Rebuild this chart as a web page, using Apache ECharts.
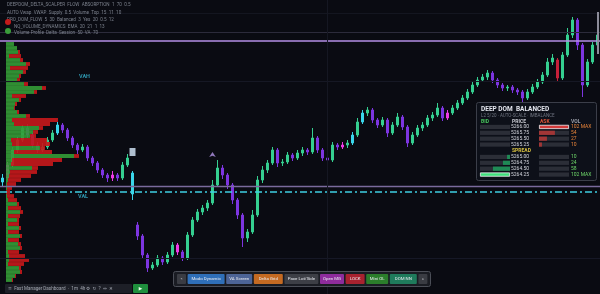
<!DOCTYPE html>
<html>
<head>
<meta charset="utf-8">
<script src="https://cdn.jsdelivr.net/npm/echarts@6/dist/echarts.min.js"></script>
<style>
  html, body { margin: 0; padding: 0; background: #0a0b12; }
  #chart { width: 600px; height: 294px; }
</style>
</head>
<body>
<div id="chart"></div>
<script>
// 1m bars, [open, close, low, high]
const candles = [
  [5118,5122,5114,5126],[5122,5135,5120,5138],[5135,5150,5133,5153],[5150,5160,5147,5163],
  [5160,5172,5158,5175],[5172,5165,5162,5176],[5165,5155,5152,5167],[5155,5150,5147,5158],
  [5150,5153,5148,5157],[5153,5160,5151,5163],[5160,5167,5158,5170],[5167,5175,5165,5178],
  [5175,5170,5167,5177],[5170,5162,5159,5172],[5162,5155,5152,5164],[5155,5150,5146,5157],
  [5150,5153,5148,5156],[5153,5142,5139,5155],[5142,5137,5134,5144],[5137,5130,5127,5139],
  [5130,5125,5122,5132],[5125,5122,5118,5127],[5122,5125,5119,5129],[5125,5122,5119,5127],
  [5122,5135,5120,5138],[5135,5142,5133,5146],[5127,5106,5100,5129],[5075,5064,5060,5078],
  [5064,5045,5041,5066],[5045,5032,5028,5047],[5032,5035,5030,5038],[5035,5042,5033,5045],
  [5042,5038,5035,5044],[5038,5045,5036,5048],[5045,5055,5043,5058],[5055,5048,5045,5057],
  [5048,5042,5039,5050],[5042,5065,5040,5068],[5065,5080,5063,5083],[5080,5088,5078,5091],
  [5088,5092,5085,5095],[5092,5097,5089,5100],[5097,5115,5095,5120],[5115,5132,5113,5140],
  [5132,5125,5121,5135],[5125,5115,5111,5127],[5115,5100,5096,5117],[5100,5085,5081,5102],
  [5085,5062,5053,5087],[5062,5068,5058,5071],[5068,5085,5066,5090],[5085,5120,5083,5124],
  [5120,5130,5117,5134],[5130,5137,5127,5140],[5137,5150,5135,5153],[5150,5137,5133,5152],
  [5137,5138,5134,5141],[5138,5145,5136,5148],[5145,5142,5139,5147],[5142,5147,5140,5150],
  [5147,5150,5144,5153],[5150,5148,5145,5152],[5148,5162,5146,5172],[5162,5150,5147,5164],
  [5150,5142,5139,5152],[5142,5140,5137,5145],[5140,5155,5138,5158],[5155,5153,5150,5157],
  [5153,5155,5151,5158],[5155,5157,5152,5160],[5157,5165,5155,5168],[5165,5178,5163,5182],
  [5178,5187,5176,5190],[5187,5190,5184,5193],[5190,5180,5177,5192],[5180,5175,5172,5182],
  [5175,5180,5173,5183],[5180,5167,5163,5182],[5167,5175,5165,5178],[5175,5183,5173,5187],
  [5183,5173,5170,5185],[5173,5157,5153,5175],[5157,5165,5155,5168],[5165,5172,5163,5175],
  [5172,5175,5169,5178],[5175,5182,5173,5185],[5182,5185,5179,5188],[5185,5192,5183,5197],
  [5192,5182,5179,5194],[5182,5187,5180,5190],[5187,5192,5185,5195],[5192,5197,5190,5200],
  [5197,5202,5195,5205],[5202,5208,5200,5211],[5208,5215,5206,5218],[5215,5220,5213,5223],
  [5220,5223,5218,5226],[5223,5227,5220,5230],[5227,5220,5217,5229],[5220,5215,5212,5222],
  [5215,5212,5209,5217],[5212,5213,5209,5215],[5213,5210,5207,5215],[5210,5208,5205,5212],
  [5208,5202,5198,5210],[5202,5208,5200,5211],[5208,5213,5206,5216],[5213,5218,5211,5221],
  [5218,5225,5216,5228],[5225,5238,5223,5242],[5238,5242,5235,5246],[5240,5222,5218,5242],
  [5222,5245,5220,5248],[5245,5265,5243,5272],[5265,5280,5262,5283],[5280,5255,5250,5282],
  [5255,5215,5203,5257],[5215,5238,5213,5241],[5238,5255,5236,5258],[5255,5265,5252,5270]
];
const cyanBars = [0, 11, 26, 70, 72];
const pinkBars = [1, 22, 35, 68, 89];
const redBars = [111];

// session levels
const sessionHigh = 5259;
const priorHigh = 5268;
const vah = 5219;
const poc = 5114;
const val = 5108;
const faintLevels = [5287, 5042];

// signal markers [bar index, price]
const absorbMarks = [[26, 5148]];
const arrowMarks = [[42, 5148]];

// volume profile, top row first (4 pt bins)
const profileTop = 5256;
const profileBuy = [
  8,11,12,3,14,20,4,17,13,11,18,36,28,6,13,9,8,11,20,6,
  8,33,27,24,5,6,34,8,68,6,5,26,4,3,2,1,1,0,1,2,
  11,2,14,2,11,2,13,2,14,2,12,14,2,3,3,2,13,14,9,6
];
const profileSell = [
  0,0,2,12,3,4,18,3,2,3,4,4,3,14,2,2,1,2,4,46,
  36,4,5,6,36,38,5,38,5,50,42,6,27,22,13,9,5,4,7,9,
  2,13,3,12,2,11,2,11,2,11,3,2,11,16,20,16,2,2,1,1
];

// DOM ladder
const askPrice = ['5266.00', '5265.75', '5265.50', '5265.25'];
const askSize = [102, 54, 27, 10];
const bidPrice = ['5265.00', '5264.75', '5264.50', '5264.25'];
const bidSize = [10, 24, 58, 102];

const legendLines = [
  'DEEPDOM_DELTA_SCALPER  FLOW  ABSORPTION  1  70  0.5',
  'AUTO Vwap  VWAP  Supply  0.5  Volume  Top  15  11  10',
  'PRO_DOM_FLOW  5  30  Balanced  3  Yes  20  0.5  12',
  'NQ_VOLUME_DYNAMICS  EMA  20  21  1  13',
  'Volume Profile  Delta  Session  50  VA  70'
];
const toolbarButtons = [
  ['«', '#3a3c43'], ['Modo Dynamic', '#2f6fb8'], ['VA Screen', '#4d6496'],
  ['Delta Grid', '#c46a22'], ['Pace Lot/Side', '#3d3f46'], ['Open MG', '#8e2c9c'],
  ['LOCK', '#a8222f'], ['Mini OL', '#2b7d2b'], ['DOM NN', '#1f7b5c'], ['»', '#3a3c43']
];
const toolbarWidths = [9, 37, 26, 29, 34, 24, 19, 22, 27, 9];

const times = candles.map((c, i) => {
  const m = 570 + i;
  return String(Math.floor(m / 60)).padStart(2, '0') + ':' + String(m % 60).padStart(2, '0');
});
const profilePrices = profileBuy.map((v, i) => (profileTop - i * 4).toFixed(2));

const font = 'Roboto, "DejaVu Sans", sans-serif';
const hl = c => ({ color: c, color0: c, borderColor: c, borderColor0: c });

const candleData = candles.map((c, i) => {
  if (cyanBars.includes(i)) return { value: c, itemStyle: hl('#3ad6ea') };
  if (pinkBars.includes(i)) return { value: c, itemStyle: hl('#ee3ae6') };
  if (redBars.includes(i)) return { value: c, itemStyle: hl('#c8203a') };
  return c;
});

const chart = echarts.init(document.getElementById('chart'));

// overlay: legend text, DOM panel frame, toolbar
const graphics = [];
const txt = (x, y, text, fill, size, extra, z) => graphics.push({
  type: 'text', x, y, z: z || 40,
  style: Object.assign({ text, fill, font: size + 'px ' + font, verticalAlign: 'middle' }, extra || {})
});

legendLines.forEach((t, i) => txt(i > 2 ? 14 : 7, [5, 12.5, 20, 26.5, 33][i], t, '#7b808c', 4.6));
graphics.push({ type: 'circle', shape: { cx: 8, cy: 22, r: 3 }, z: 41, style: { fill: '#c41a1a' } });
graphics.push({ type: 'circle', shape: { cx: 8, cy: 31, r: 3 }, z: 41, style: { fill: '#3a9d3a' } });
graphics.push({ type: 'rect', shape: { x: 597, y: 12, width: 2, height: 42 }, z: 40, style: { fill: '#8c8c99' } });

txt(79, 77, 'VAH', '#2e98b0', 5.5, { font: 'bold 5.5px ' + font });
txt(78, 197, 'VAL', '#2e98b0', 5.5, { font: 'bold 5.5px ' + font });

// DOM panel
graphics.push({ type: 'rect', shape: { x: 476.5, y: 102.5, width: 120, height: 78, r: 2 }, z: 10,
  style: { fill: '#0d1019', stroke: '#3b3e49', lineWidth: 1 } });
txt(481, 109.5, 'DEEP DOM  BALANCED', '#e4e6ee', 7, { font: 'bold 6.5px ' + font });
txt(481, 115.5, 'L2 5/20 · AUTO-SCALE · IMBALANCE', '#6f7480', 4.5);
[['BID', 481, '#47c45c'], ['PRICE', 512, '#c8cad2'], ['ASK', 540, '#e0553a'], ['VOL', 571, '#9a9ea8']]
  .forEach(h => txt(h[1], 121.5, h[0], h[2], 5, { font: 'bold 5px ' + font }));
txt(512, 150.5, 'SPREAD', '#d8c040', 5, { font: 'bold 5px ' + font });
askPrice.forEach((p, i) => {
  const y = 127 + i * 5.8;
  txt(511, y, p, '#d2d4dc', 5);
  txt(571, y, String(askSize[i]) + (i === 0 ? ' MAX' : ''), '#e8843a', 5);
});
bidPrice.forEach((p, i) => {
  const y = 157 + i * 5.8;
  txt(511, y, p, '#d2d4dc', 5);
  txt(571, y, String(bidSize[i]) + (i === 3 ? ' MAX' : ''), '#6fd86a', 5);
});

// toolbar
graphics.push({ type: 'rect', shape: { x: 173.5, y: 271.5, width: 257, height: 15, r: 2 }, z: 40,
  style: { fill: '#1a1c23', stroke: '#4b4e57', lineWidth: 1 } });
let bx = 177;
toolbarButtons.forEach((b, i) => {
  const w = toolbarWidths[i];
  graphics.push({ type: 'rect', shape: { x: bx, y: 274, width: w, height: 10, r: 1 }, z: 41, style: { fill: b[1] } });
  txt(bx + w / 2, 279, b[0], '#e8eaf0', 4.4, { align: 'center' }, 43);
  bx += w + 1.6;
});
// bottom-left status bar
graphics.push({ type: 'rect', shape: { x: 5, y: 284, width: 127, height: 9, r: 1 }, z: 40, style: { fill: '#1d1f27' } });
txt(8, 288.5, '≡  Fast Manager Dashboard  ·  1m  4h', '#a4a8b2', 4.6, null, 43);
txt(86, 288.5, '⚙  ↻  ?  ⇔  ✕', '#a4a8b2', 4.6, null, 43);
graphics.push({ type: 'rect', shape: { x: 133, y: 284, width: 15, height: 9, r: 1 }, z: 40, style: { fill: '#1f8f3d' } });
txt(140.5, 288.5, '▶', '#eaffea', 4.6, { align: 'center' }, 43);

const hiddenCat = (grid, data) => ({ type: 'category', gridIndex: grid, data, inverse: true, show: false });
const hiddenVal = (grid, max, inverse) => ({ type: 'value', gridIndex: grid, min: 0, max, inverse, show: false, splitLine: { show: false } });
const domMax = Math.max(...askSize, ...bidSize);
const rows4 = ['1', '2', '3', '4'];

const domBar = (idx, data, colors, hiIdx) => ({
  type: 'bar', xAxisIndex: idx, yAxisIndex: idx, z: 20, barWidth: 4.2,
  showBackground: true, backgroundStyle: { color: '#2b2e37' },
  data: data.map((v, i) => ({
    value: v,
    itemStyle: i === hiIdx ? { color: colors[1], borderColor: '#ececf0', borderWidth: 0.8 } : { color: colors[0] }
  })),
  silent: true
});

chart.setOption({
  backgroundColor: '#0a0b12',
  animation: false,
  graphic: graphics,
  grid: [
    { left: 0, top: 0, width: 600, height: 294 },
    { left: 6, top: 42, width: 100, height: 240 },
    { left: 480, top: 124, width: 30, height: 23.5 },
    { left: 539, top: 124, width: 30, height: 23.5 },
    { left: 480, top: 154, width: 30, height: 23.5 },
    { left: 539, top: 154, width: 30, height: 23.5 }
  ],
  xAxis: [
    { type: 'category', gridIndex: 0, data: times, show: false, boundaryGap: true },
    hiddenVal(1, 100, false),
    hiddenVal(2, domMax, true),
    hiddenVal(3, domMax, false),
    hiddenVal(4, domMax, true),
    hiddenVal(5, domMax, false)
  ],
  yAxis: [
    { type: 'value', gridIndex: 0, min: 5006, max: 5300, show: false, splitLine: { show: false } },
    hiddenCat(1, profilePrices),
    hiddenCat(2, rows4),
    hiddenCat(3, rows4),
    hiddenCat(4, rows4),
    hiddenCat(5, rows4)
  ],
  series: [
    {
      type: 'candlestick', xAxisIndex: 0, yAxisIndex: 0, z: 2,
      barWidth: 1.6,
      itemStyle: { color: '#35cf90', color0: '#7d35e0', borderColor: '#35cf90', borderColor0: '#7d35e0', borderWidth: 1 },
      data: candleData,
      markLine: {
        silent: true, symbol: ['none', 'none'], label: { show: false }, animation: false,
        data: [
          { yAxis: faintLevels[0], lineStyle: { color: '#141620', width: 1, type: 'solid' } },
          { yAxis: faintLevels[1], lineStyle: { color: '#161826', width: 1, type: 'solid' } },
          { yAxis: priorHigh, lineStyle: { color: '#2c2b3b', width: 1, type: 'solid' } },
          { yAxis: vah, lineStyle: { color: '#161824', width: 1, type: 'solid' } },
          { yAxis: sessionHigh, lineStyle: { color: '#b48fe6', width: 1.5, type: 'solid' } },
          { yAxis: poc, lineStyle: { color: '#7a6a9c', width: 1.3, type: 'solid' } },
          { yAxis: val, lineStyle: { color: '#3fcfe2', width: 1.5, type: [7, 3, 2, 3] } },
          { xAxis: times[65], lineStyle: { color: '#151722', width: 1, type: 'solid' } }
        ]
      }
    },
    {
      type: 'scatter', xAxisIndex: 0, yAxisIndex: 0, z: 6, symbol: 'rect', symbolSize: [6, 8],
      itemStyle: { color: '#d8ecff' }, data: absorbMarks
    },
    {
      type: 'scatter', xAxisIndex: 0, yAxisIndex: 0, z: 6, symbol: 'arrow', symbolSize: [5, 5],
      itemStyle: { color: '#b394e6' }, data: arrowMarks
    },
    {
      type: 'bar', xAxisIndex: 1, yAxisIndex: 1, stack: 'vp', z: 3, barCategoryGap: '4%',
      itemStyle: { color: '#349a36', opacity: 0.92 }, data: profileBuy, silent: true
    },
    {
      type: 'bar', xAxisIndex: 1, yAxisIndex: 1, stack: 'vp', z: 3, barCategoryGap: '4%',
      itemStyle: { color: '#c4191b', opacity: 0.92 }, data: profileSell, silent: true
    },
    domBar(2, [0, 0, 0, 0], ['#1f8a55', '#3fe07c'], -1),
    domBar(3, askSize, ['#a13636', '#d23a3a'], 0),
    domBar(4, bidSize, ['#1f8a55', '#3fe07c'], 3),
    domBar(5, [0, 0, 0, 0], ['#a13636', '#d23a3a'], -1)
  ]
});
</script>
</body>
</html>
